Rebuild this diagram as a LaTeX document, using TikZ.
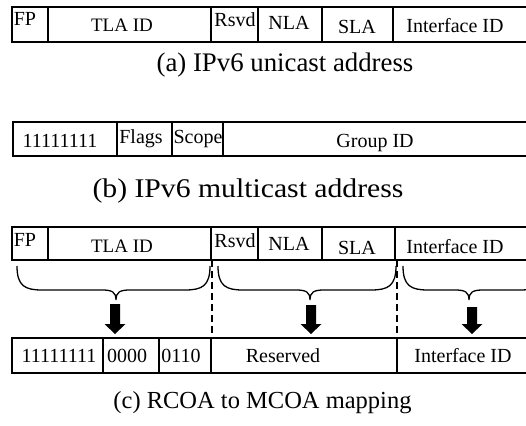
\documentclass[tikz,border=0pt]{standalone}
\usepackage{fontspec}
\setmainfont{Liberation Serif}
\begin{document}
\begin{tikzpicture}[x=1pt,y=-1pt,
  cell/.style={line width=1.6pt},
  lbl/.style={anchor=base,inner sep=0pt,font=\fontsize{20}{24}\selectfont},
  captxt/.style={anchor=base,inner sep=0pt},
  bracepath/.style={line width=1.3pt},
  sep/.style={line width=1.3pt,dash pattern=on 7pt off 4pt},
  blockarrow/.style={fill=black,draw=none}]
\useasboundingbox (0,0) rectangle (526,425);
% ---- (a) ----
\draw[cell] (530,7) -- (12,7) -- (12,42) -- (530,42);
\foreach \x in {48,211,258,322,393} \draw[cell] (\x,7) -- (\x,42);
\node[lbl] (aFP) at (25,26) {FP};
\node[lbl,font=\fontsize{19}{23}\selectfont] (aTLA) at (122,32) {TLA ID};
\node[lbl] (aRsvd) at (235,27) {Rsvd};
\node[lbl] (aNLA) at (289,30) {NLA};
\node[lbl] (aSLA) at (357,34) {SLA};
\node[lbl] (aIF) at (455,33) {Interface ID};
\node[captxt,font=\fontsize{26.8}{32}\selectfont] (capA) at (285,72) {(a) IPv6 unicast address};
% ---- (b) ----
\draw[cell] (530,122) -- (13,122) -- (13,156) -- (530,156);
\foreach \x in {117,172,223} \draw[cell] (\x,122) -- (\x,156);
\node[lbl] (bOnes) at (60,147) {11111111};
\node[lbl] (bFlags) at (141,143) {Flags};
\node[lbl] (bScope) at (198,143) {Scope};
\node[lbl] (bGroup) at (375,147) {Group ID};
\node[captxt,font=\fontsize{27}{32}\selectfont,xscale=1.1] (capB) at (248,197) {(b) IPv6 multicast address};
% ---- (c) top ----
\draw[cell] (530,227) -- (12,227) -- (12,260) -- (530,260);
\foreach \x in {48,211,258,322,395} \draw[cell] (\x,227) -- (\x,260);
\node[lbl] (cFP) at (25,246) {FP};
\node[lbl,font=\fontsize{19}{23}\selectfont] (cTLA) at (122,252) {TLA ID};
\node[lbl] (cRsvd) at (235,247) {Rsvd};
\node[lbl] (cNLA) at (289,250) {NLA};
\node[lbl] (cSLA) at (357,254) {SLA};
\node[lbl] (cIF) at (455,253) {Interface ID};
% ---- (c) bottom ----
\draw[cell] (530,338) -- (12,338) -- (12,373) -- (530,373);
\foreach \x in {103,159,211,397} \draw[cell] (\x,338) -- (\x,373);
\node[lbl] (dOnes) at (59,362) {11111111};
\node[lbl] (dZero) at (127,362) {0000};
\node[lbl] (dSix) at (181,362) {0110};
\node[lbl] (dRes) at (283,362) {Reserved};
\node[lbl] (dIF) at (463,362) {Interface ID};
\node[captxt,font=\fontsize{24.5}{29}\selectfont] (capC) at (262.5,408) {(c) RCOA to MCOA mapping};
% dashed separators
\coordinate (s1t) at (212,260); \coordinate (s1b) at (212,338);
\coordinate (s2t) at (397,260); \coordinate (s2b) at (397,338);
\draw[sep] (s1t) -- (s1b);
\draw[sep] (s2t) -- (s2b);
% braces
\foreach \xa/\xm/\xb in {17/116/210, 218/310/396, 403/469/545}{
  \draw[bracepath] (\xa,266) .. controls (\xa,286) and (\xa+8,290) .. (\xa+25,290)
     -- (\xm-14,290) .. controls (\xm-4,290) and (\xm,292) .. (\xm,300)
     .. controls (\xm,292) and (\xm+4,290) .. (\xm+14,290)
     -- (\xb-25,290) .. controls (\xb-8,290) and (\xb,286) .. (\xb,266);
}
% block arrows
\foreach \cx/\ty in {115/304, 311/305, 472/307}{
  \fill[blockarrow] (\cx-5,\ty) -- (\cx+5,\ty) -- (\cx+5,324) -- (\cx+10.5,324)
     -- (\cx,334) -- (\cx-10.5,324) -- (\cx-5,324) -- cycle;
}
\end{tikzpicture}
\end{document}
